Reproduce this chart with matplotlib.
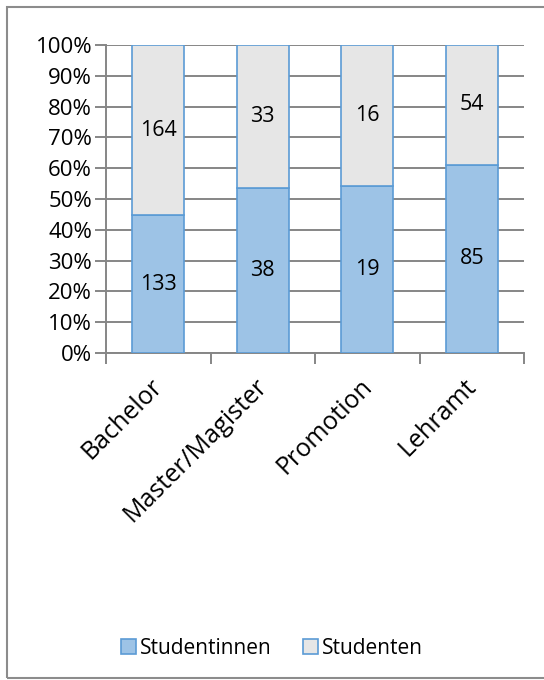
import numpy as np
import matplotlib.pyplot as plt
import matplotlib.transforms as mtransforms
from matplotlib.patches import Rectangle

# Daten
kategorien = ['Bachelor', 'Master/Magister', 'Promotion', 'Lehramt']
studentinnen = np.array([133, 38, 19, 85])
studenten = np.array([164, 33, 16, 54])

plt.rcParams['font.family'] = ['Open Sans', 'DejaVu Sans']

summe = studentinnen + studenten
anteil_w = studentinnen / summe
anteil_m = studenten / summe

fig = plt.figure(figsize=(5.44, 6.8), dpi=100)
ax = fig.add_axes([106 / 544, 1 - 353 / 680, (524 - 106) / 544, (353 - 45) / 680])

x = np.arange(len(kategorien))
blau = '#9DC3E6'
grau = '#E6E6E6'
rand = '#5B9BD5'

b1 = ax.bar(x, anteil_w, width=0.5, color=blau, edgecolor=rand, linewidth=1.2,
            label='Studentinnen', zorder=3)
b2 = ax.bar(x, anteil_m, width=0.5, bottom=anteil_w, color=grau, edgecolor=rand,
            linewidth=1.2, label='Studenten', zorder=3)

for i in range(len(x)):
    ax.text(x[i], anteil_w[i] / 2, str(studentinnen[i]), ha='center', va='center',
            fontsize=15.5, zorder=4)
    ax.text(x[i], anteil_w[i] + anteil_m[i] / 2, str(studenten[i]), ha='center',
            va='center', fontsize=15.5, zorder=4)

ax.set_xlim(-0.5, len(x) - 0.5)
ax.set_ylim(0, 1)
ax.set_yticks(np.linspace(0, 1, 11))
ax.set_yticklabels([f'{int(round(v * 100))}%' for v in np.linspace(0, 1, 11)], fontsize=16)
ax.grid(axis='y', color='#868686', linewidth=1.4, zorder=0)

ax.set_xticks(x)
ax.set_xticklabels(kategorien, rotation=45, ha='right', va='top',
                   rotation_mode='anchor', fontsize=18)
ax.tick_params(axis='x', length=0, pad=15)
verschiebung = mtransforms.ScaledTranslation(-8 / 100, 0, fig.dpi_scale_trans)
for lbl in ax.get_xticklabels():
    lbl.set_transform(lbl.get_transform() + verschiebung)
ax.set_xticks(np.arange(-0.5, len(x)), minor=True)
ax.tick_params(axis='x', which='minor', length=8, width=1.4, color='#868686')
ax.tick_params(axis='y', length=8, width=1.4, color='#868686', pad=2)

for s in ['top', 'right']:
    ax.spines[s].set_visible(False)
for s in ['left', 'bottom']:
    ax.spines[s].set_color('#868686')
    ax.spines[s].set_linewidth(1.4)

fig.legend(handles=[b1, b2], loc='center', bbox_to_anchor=(0.5, 1 - 648 / 680),
           ncol=2, frameon=False, fontsize=15, handlelength=0.7, handleheight=0.7,
           handletextpad=0.2, columnspacing=1.5)

fig.patches.append(Rectangle((7 / 544, 2 / 680), 1.2, 671 / 680, transform=fig.transFigure,
                             fill=False, edgecolor='#8C8C8C', linewidth=1.5))

fig.savefig('out.png', dpi=100)
